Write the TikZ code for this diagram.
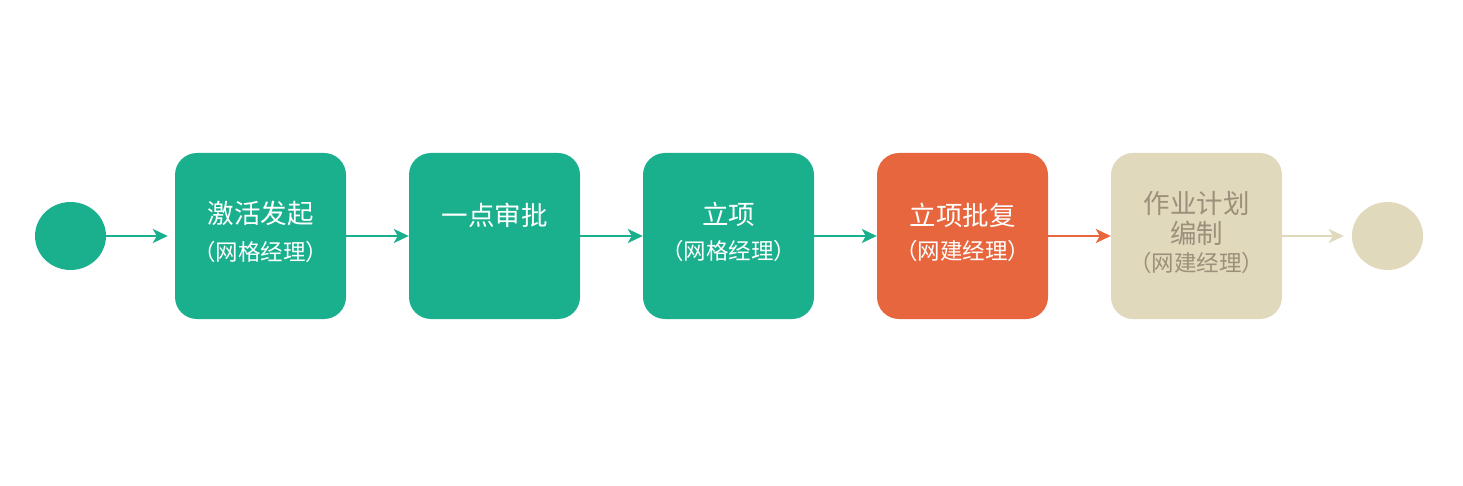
\documentclass[tikz,border=0pt]{standalone}
\usepackage{fontspec}
\setmainfont{Noto Sans CJK SC}
\usetikzlibrary{arrows.meta,shapes.geometric}
\definecolor{cgreen}{HTML}{1BB08D}
\definecolor{corange}{HTML}{E8663D}
\definecolor{cbeige}{HTML}{E1D9BC}
\definecolor{cbtext}{HTML}{9C8F7B}
\tikzset{
  x=1pt,y=-1pt,
  stepbox/.style={rounded corners=22pt,minimum width=171pt,minimum height=166pt,inner sep=0pt,draw=none},
  endpt/.style={ellipse,minimum width=71pt,minimum height=68pt,inner sep=0pt,draw=none},
  big/.style={font=\fontsize{26.5}{30}\selectfont},
  small/.style={font=\fontsize{22.5}{26}\selectfont},
  flow/.style={line width=2.2pt,-{Stealth[length=15pt,width=14pt,inset=4pt]}},
}
\begin{document}
\begin{tikzpicture}
\useasboundingbox (0,0) rectangle (1463,486);
\node[endpt,fill=cgreen] (s) at (70.5,236) {};
\node[stepbox,fill=cgreen] (b1) at (260.5,236) {};
\node[stepbox,fill=cgreen] (b2) at (494.5,236) {};
\node[stepbox,fill=cgreen] (b3) at (728.5,236) {};
\node[stepbox,fill=corange] (b4) at (962.5,236) {};
\node[stepbox,fill=cbeige] (b5) at (1196.5,236) {};
\node[endpt,fill=cbeige] (e) at (1387.5,236) {};
% texts
\node[big,text=white] (t1a) at (260.5,213) {激活发起};
\node[small,text=white] (t1b) at (260.5,252) {（网格经理）};
\node[big,text=white] (t2a) at (494.5,215) {一点审批};
\node[big,text=white] (t3a) at (728.5,214) {立项};
\node[small,text=white] (t3b) at (728.5,251) {（网格经理）};
\node[big,text=white] (t4a) at (962.5,215) {立项批复};
\node[small,text=white] (t4b) at (962.5,251) {（网建经理）};
\node[big,text=cbtext] (t5a) at (1196.5,203) {作业计划};
\node[big,text=cbtext] (t5b) at (1196.5,233) {编制};
\node[small,text=cbtext] (t5c) at (1196.5,263) {（网建经理）};
% connectors
\draw[flow,cgreen] (s.east) -- ([xshift=-7pt]b1.west);
\draw[flow,cgreen] (b1.east) -- (b2.west);
\draw[flow,cgreen] (b2.east) -- (b3.west);
\draw[flow,cgreen] (b3.east) -- (b4.west);
\draw[flow,corange] (b4.east) -- (b5.west);
\draw[flow,cbeige] (b5.east) -- ([xshift=-8pt]e.west);
\end{tikzpicture}
\end{document}
